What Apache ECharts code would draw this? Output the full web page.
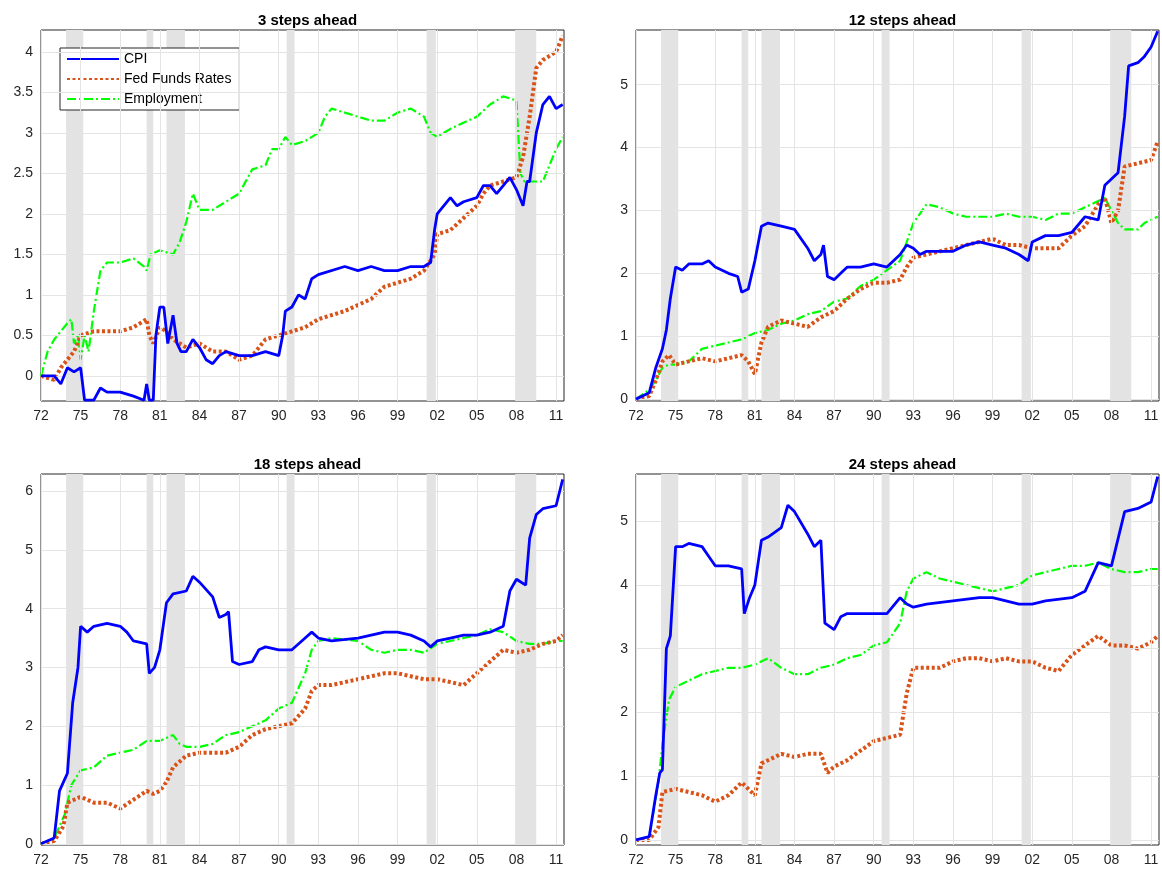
<!DOCTYPE html>
<html><head><meta charset="utf-8">
<script src="https://cdn.jsdelivr.net/npm/echarts@6/dist/echarts.min.js"></script>
<style>body{margin:0;background:#fff}#c{width:1162px;height:872px}</style>
</head><body><div id="c"></div>
<script>
// years stored as (year - 1900)
var titles = ['3 steps ahead', '12 steps ahead', '18 steps ahead', '24 steps ahead'];
var recessions = [[73.9, 75.2], [80.0, 80.5], [81.5, 82.9], [90.6, 91.2], [101.2, 101.9], [107.9, 109.5]];

var cpi3 = [[72,0],[73,0],[73.5,-0.1],[74,0.1],[74.5,0.05],[75,0.1],[75.3,-0.3],[76,-0.3],[76.5,-0.15],[77,-0.2],[78,-0.2],[79,-0.25],[79.8,-0.3],[80,-0.1],[80.2,-0.3],[80.5,-0.3],[80.7,0.5],[81,0.85],[81.3,0.85],[81.6,0.4],[82,0.75],[82.3,0.4],[82.6,0.3],[83,0.3],[83.5,0.45],[84,0.35],[84.5,0.2],[85,0.15],[85.5,0.25],[86,0.3],[87,0.25],[88,0.25],[89,0.3],[90,0.25],[90.3,0.5],[90.5,0.8],[91,0.85],[91.5,1.0],[92,0.95],[92.5,1.2],[93,1.25],[95,1.35],[96,1.3],[97,1.35],[98,1.3],[99,1.3],[100,1.35],[101,1.35],[101.5,1.4],[101.8,1.8],[102,2.0],[103,2.2],[103.5,2.1],[104,2.15],[105,2.2],[105.5,2.35],[106,2.35],[106.5,2.25],[107,2.35],[107.5,2.45],[108,2.3],[108.5,2.1],[108.8,2.4],[109,2.4],[109.5,3.0],[110,3.35],[110.5,3.45],[111,3.3],[111.5,3.35]];
var ffr3 = [[72,0],[73,-0.05],[73.5,0.1],[74,0.2],[74.5,0.3],[75,0.5],[76,0.55],[78,0.55],[79,0.6],[80,0.7],[80.2,0.5],[80.5,0.4],[81,0.6],[81.5,0.55],[82,0.45],[83,0.35],[84,0.4],[85,0.3],[86,0.3],[87,0.2],[88,0.25],[89,0.45],[90,0.5],[91,0.55],[92,0.6],[93,0.7],[95,0.8],[97,0.95],[98,1.1],[99,1.15],[100,1.2],[101,1.3],[101.8,1.5],[102,1.75],[103,1.8],[104,1.95],[105,2.1],[105.5,2.25],[106,2.35],[107,2.4],[108,2.45],[108.5,2.7],[109,3.2],[109.5,3.8],[110,3.9],[110.5,3.95],[111,4.0],[111.5,4.2]];
var emp3 = [[72,0],[72.5,0.3],[73,0.45],[73.5,0.55],[74,0.65],[74.3,0.7],[74.5,0.4],[74.8,0.5],[75,0.2],[75.3,0.5],[75.6,0.3],[76,0.8],[76.5,1.3],[77,1.4],[78,1.4],[79,1.45],[79.8,1.35],[80,1.3],[80.3,1.5],[81,1.55],[82,1.5],[82.5,1.65],[83,1.9],[83.5,2.25],[84,2.05],[85,2.05],[86,2.15],[87,2.25],[88,2.55],[89,2.6],[89.5,2.8],[90,2.8],[90.5,2.95],[91,2.85],[92,2.9],[93,3.0],[93.5,3.2],[94,3.3],[95,3.25],[96,3.2],[97,3.15],[98,3.15],[99,3.25],[100,3.3],[101,3.2],[101.5,3.0],[102,2.95],[103,3.05],[105,3.2],[106,3.35],[107,3.45],[108,3.4],[108.3,2.5],[108.6,2.4],[109,2.4],[110,2.4],[110.5,2.6],[111,2.8],[111.5,2.95]];

var cpi12 = [[72,0],[73,0.1],[73.5,0.5],[74,0.8],[74.3,1.1],[74.6,1.6],[75,2.1],[75.5,2.05],[76,2.15],[77,2.15],[77.5,2.2],[78,2.1],[79,2.0],[79.7,1.95],[80,1.7],[80.5,1.75],[81,2.2],[81.5,2.75],[82,2.8],[83,2.75],[84,2.7],[85,2.4],[85.5,2.2],[86,2.3],[86.2,2.45],[86.5,1.95],[87,1.9],[87.5,2.0],[88,2.1],[89,2.1],[90,2.15],[91,2.1],[92,2.3],[92.5,2.45],[93,2.4],[93.5,2.3],[94,2.35],[96,2.35],[97,2.45],[98,2.5],[99,2.45],[100,2.4],[101,2.3],[101.7,2.2],[102,2.5],[103,2.6],[104,2.6],[105,2.65],[106,2.9],[107,2.85],[107.5,3.4],[108,3.5],[108.5,3.6],[109,4.5],[109.3,5.3],[110,5.35],[110.5,5.45],[111,5.6],[111.5,5.85]];
var ffr12 = [[72,0],[73,0.05],[73.5,0.3],[74,0.6],[74.5,0.7],[75,0.55],[76,0.6],[77,0.65],[78,0.6],[79,0.65],[80,0.7],[80.5,0.6],[81,0.4],[81.5,0.9],[82,1.15],[83,1.25],[84,1.2],[85,1.15],[86,1.3],[87,1.4],[88,1.6],[89,1.75],[90,1.85],[91,1.85],[92,1.9],[92.5,2.1],[93,2.25],[94,2.3],[96,2.4],[97,2.45],[98,2.5],[99,2.55],[100,2.45],[101,2.45],[102,2.4],[103,2.4],[104,2.4],[105,2.6],[106,2.75],[107,3.1],[107.5,3.2],[108,2.8],[108.5,3.0],[109,3.7],[110,3.75],[111,3.8],[111.5,4.1]];
var emp12 = [[72,0],[73,0.15],[73.5,0.3],[74,0.5],[74.5,0.55],[75,0.55],[76,0.6],[77,0.8],[78,0.85],[79,0.9],[80,0.95],[81,1.05],[82,1.1],[83,1.2],[84,1.25],[85,1.35],[86,1.4],[87,1.55],[88,1.6],[89,1.8],[90,1.9],[91,2.05],[92,2.2],[92.5,2.5],[93,2.8],[94,3.1],[95,3.05],[96,2.95],[97,2.9],[99,2.9],[100,2.95],[101,2.9],[102,2.9],[103,2.85],[104,2.95],[105,2.95],[106,3.05],[107,3.15],[107.5,3.2],[108,3.0],[108.5,2.8],[109,2.7],[110,2.7],[110.5,2.8],[111.5,2.9]];

var cpi18 = [[72,0],[73,0.1],[73.4,0.9],[73.8,1.1],[74,1.2],[74.4,2.4],[74.8,3.0],[75,3.7],[75.5,3.6],[76,3.7],[77,3.75],[78,3.7],[78.5,3.6],[79,3.45],[80,3.4],[80.2,2.9],[80.6,3.0],[81,3.3],[81.5,4.1],[82,4.25],[83,4.3],[83.5,4.55],[84,4.45],[85,4.2],[85.5,3.85],[86,3.9],[86.2,3.95],[86.5,3.1],[87,3.05],[88,3.1],[88.5,3.3],[89,3.35],[90,3.3],[91,3.3],[92,3.5],[92.5,3.6],[93,3.5],[94,3.45],[96,3.5],[97,3.55],[98,3.6],[99,3.6],[100,3.55],[101,3.45],[101.5,3.35],[102,3.45],[103,3.5],[104,3.55],[105,3.55],[106,3.6],[107,3.7],[107.5,4.3],[108,4.5],[108.7,4.4],[109,5.2],[109.5,5.6],[110,5.7],[111,5.75],[111.5,6.2]];
var ffr18 = [[72,0],[73,0.05],[73.7,0.3],[74,0.7],[74.5,0.75],[75,0.8],[76,0.7],[77,0.7],[78,0.6],[79,0.75],[80,0.9],[80.5,0.85],[81,0.9],[81.5,1.05],[82,1.3],[83,1.5],[84,1.55],[85,1.55],[86,1.55],[87,1.65],[88,1.85],[89,1.95],[90,2.0],[91,2.05],[92,2.3],[92.5,2.6],[93,2.7],[94,2.7],[96,2.8],[97,2.85],[98,2.9],[99,2.9],[100,2.85],[101,2.8],[102,2.8],[103,2.75],[104,2.7],[105,2.9],[106,3.1],[107,3.3],[108,3.25],[109,3.3],[110,3.4],[111,3.45],[111.5,3.55]];
var emp18 = [[72,0],[73,0.1],[73.8,0.5],[74.3,1.0],[75,1.25],[76,1.3],[77,1.5],[78,1.55],[79,1.6],[80,1.75],[81,1.75],[82,1.85],[82.5,1.7],[83,1.65],[84,1.65],[85,1.7],[86,1.85],[87,1.9],[88,2.0],[89,2.1],[90,2.3],[91,2.4],[92,2.9],[92.5,3.3],[93,3.45],[94,3.5],[96,3.45],[97,3.3],[98,3.25],[99,3.3],[100,3.3],[101,3.25],[102,3.4],[103,3.45],[104,3.5],[105,3.55],[106,3.65],[107,3.6],[108,3.45],[109,3.4],[110,3.4],[111,3.45],[111.5,3.45]];

var cpi24 = [[72,0],[73,0.05],[73.5,0.7],[73.8,1.05],[74,1.1],[74.3,3.0],[74.6,3.2],[75,4.6],[75.5,4.6],[76,4.65],[77,4.6],[77.5,4.45],[78,4.3],[79,4.3],[80,4.25],[80.2,3.55],[80.6,3.8],[81,4.0],[81.5,4.7],[82,4.75],[83,4.9],[83.5,5.25],[84,5.15],[85,4.8],[85.5,4.6],[86,4.7],[86.3,3.4],[87,3.3],[87.5,3.5],[88,3.55],[90,3.55],[91,3.55],[92,3.8],[92.5,3.7],[93,3.65],[94,3.7],[96,3.75],[98,3.8],[99,3.8],[100,3.75],[101,3.7],[102,3.7],[103,3.75],[105,3.8],[106,3.9],[107,4.35],[108,4.3],[109,5.15],[110,5.2],[111,5.3],[111.5,5.7]];
var ffr24 = [[72,0],[73,0],[73.7,0.2],[74,0.75],[75,0.8],[76,0.75],[77,0.7],[78,0.6],[79,0.7],[80,0.9],[80.5,0.8],[81,0.7],[81.5,1.2],[82,1.25],[83,1.35],[84,1.3],[85,1.35],[86,1.35],[86.5,1.05],[87,1.15],[88,1.25],[89,1.4],[90,1.55],[91,1.6],[92,1.65],[92.5,2.3],[93,2.7],[94,2.7],[95,2.7],[96,2.8],[97,2.85],[98,2.85],[99,2.8],[100,2.85],[101,2.8],[102,2.8],[103,2.7],[104,2.65],[105,2.9],[106,3.05],[107,3.2],[108,3.05],[109,3.05],[110,3.0],[111,3.1],[111.5,3.2]];
var emp24 = [[72,0],[73,0.05],[73.7,0.9],[74,1.5],[74.5,2.2],[75,2.4],[76,2.5],[77,2.6],[78,2.65],[79,2.7],[80,2.7],[81,2.75],[82,2.85],[83,2.7],[84,2.6],[85,2.6],[86,2.7],[87,2.75],[88,2.85],[89,2.9],[90,3.05],[91,3.1],[92,3.4],[92.5,3.9],[93,4.1],[94,4.2],[95,4.1],[96,4.05],[97,4.0],[98,3.95],[99,3.9],[100,3.95],[101,4.0],[102,4.15],[103,4.2],[104,4.25],[105,4.3],[106,4.3],[107,4.35],[108,4.25],[109,4.2],[110,4.2],[111,4.25],[111.5,4.25]];

var cpiSets = [cpi3, cpi12, cpi18, cpi24];
var ffrSets = [ffr3, ffr12, ffr18, ffr24];
var empSets = [emp3, emp12, emp18, emp24];
var yRanges = [[-0.31, 4.27], [-0.03, 5.87], [-0.02, 6.29], [-0.08, 5.74]];
var yTicks = [[0,0.5,1,1.5,2,2.5,3,3.5,4], [0,1,2,3,4,5], [0,1,2,3,4,5,6], [0,1,2,3,4,5]];
var xTicks = [72,75,78,81,84,87,90,93,96,99,102,105,108,111];

var boxes = [[41, 30], [636, 30], [41, 474], [636, 474]];
var W = 523, H = 371;

var grids = [], xAxes = [], yAxes = [], series = [], titleList = [];
function yr(d) { return [d[0] + 1900, d[1]]; }
var font = 'Helvetica, Arial, "Liberation Sans", sans-serif';

for (var i = 0; i < 4; i++) {
    grids.push({ left: boxes[i][0], top: boxes[i][1], width: W, height: H, show: true, borderColor: '#262626', borderWidth: 1, backgroundColor: '#fff' });
    titleList.push({ text: titles[i], left: boxes[i][0] + W / 2, top: boxes[i][1] - 22, textAlign: 'center',
        textStyle: { fontSize: 15, fontWeight: 'bold', color: '#000', fontFamily: font } });
    xAxes.push({ type: 'value', gridIndex: i, min: 1972, max: 2011.6,
        axisLine: { show: false },
        axisTick: { show: true, inside: true, length: 4, lineStyle: { color: '#262626' }, customValues: xTicks.map(function (v) { return v + 1900; }) },
        axisLabel: { fontSize: 14, color: '#262626', fontFamily: font, margin: 8,
            customValues: xTicks.map(function (v) { return v + 1900; }),
            formatter: function (v) { return String(Math.round(v) % 100).padStart(2, '0'); } },
        splitLine: { show: false } });
    yAxes.push({ type: 'value', gridIndex: i, min: yRanges[i][0], max: yRanges[i][1],
        axisLine: { show: false },
        axisTick: { show: true, inside: true, length: 4, lineStyle: { color: '#262626' }, customValues: yTicks[i] },
        axisLabel: { fontSize: 14, color: '#262626', fontFamily: font, margin: 8, customValues: yTicks[i] },
        splitLine: { show: false } });

    // grid lines as markLines on a helper series
    var gl = [];
    xTicks.forEach(function (v) { gl.push({ xAxis: v + 1900 }); });
    yTicks[i].forEach(function (v) { gl.push({ yAxis: v }); });

    series.push({ type: 'line', xAxisIndex: i, yAxisIndex: i, data: [], silent: true,
        markArea: { silent: true, itemStyle: { color: '#e3e3e3' },
            data: recessions.map(function (r) { return [{ xAxis: r[0] + 1900 }, { xAxis: r[1] + 1900 }]; }) },
        markLine: { silent: true, symbol: 'none', label: { show: false }, animation: false,
            lineStyle: { color: '#e4e4e4', type: 'solid', width: 1 }, data: gl } });

    series.push({ name: 'Employment', type: 'line', xAxisIndex: i, yAxisIndex: i, showSymbol: false, z: 3,
        data: empSets[i].map(yr), lineStyle: { color: '#00ff00', width: 2.2, type: [9, 3, 2, 3] }, itemStyle: { color: '#00ff00' } });
    series.push({ name: 'Fed Funds Rates', type: 'line', xAxisIndex: i, yAxisIndex: i, showSymbol: false, z: 4,
        data: ffrSets[i].map(yr), lineStyle: { color: '#d95319', width: 4, type: [3, 2.5] }, itemStyle: { color: '#d95319' } });
    series.push({ name: 'CPI', type: 'line', xAxisIndex: i, yAxisIndex: i, showSymbol: false, z: 5,
        data: cpiSets[i].map(yr), lineStyle: { color: '#0000ff', width: 2.8 }, itemStyle: { color: '#0000ff' } });
}

var chart = echarts.init(document.getElementById('c'));
chart.setOption({
    animation: false,
    title: titleList,
    legend: { data: ['CPI', 'Fed Funds Rates', 'Employment'], orient: 'vertical', left: 60, top: 48,
        backgroundColor: '#fff', borderColor: '#262626', borderWidth: 1, padding: [4, 8, 4, 6],
        itemWidth: 52, itemHeight: 14, itemGap: 6,
        itemStyle: { opacity: 0 },
        textStyle: { fontSize: 14, color: '#000', fontFamily: font } },
    grid: grids, xAxis: xAxes, yAxis: yAxes, series: series
});
</script></body></html>
